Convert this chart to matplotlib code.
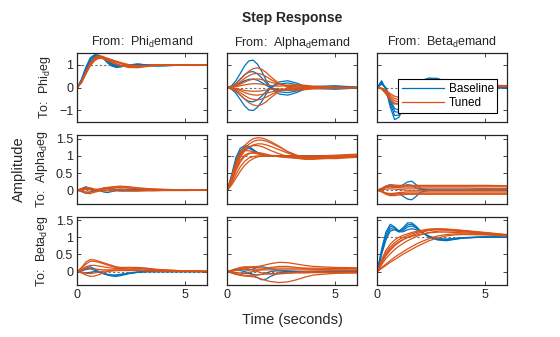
import matplotlib
matplotlib.use('Agg')
import matplotlib.pyplot as plt

plt.rcParams['font.family'] = ['Liberation Sans', 'DejaVu Sans']
plt.rcParams['mathtext.fontset'] = 'custom'
plt.rcParams['mathtext.rm'] = 'Liberation Sans'

# time samples (s)
T = [0, 0.2, 0.4, 0.6, 0.8, 1.0, 1.2, 1.4, 1.6, 1.8, 2.0, 2.4, 2.8, 3.2, 3.6, 4.0, 5.0, 6.0]

inputs = ['Phi', 'Alpha', 'Beta']
outputs = ['Phi', 'Alpha', 'Beta']

# Phi demand -> Phi
phi_phi_base = [
    [0, 0.35, 0.85, 1.25, 1.40, 1.40, 1.30, 1.12, 0.98, 0.92, 0.93, 1.00, 1.02, 0.98, 0.95, 0.96, 0.99, 1.00],
    [0, 0.32, 0.80, 1.20, 1.36, 1.38, 1.30, 1.15, 1.02, 0.95, 0.94, 0.98, 1.02, 1.00, 0.97, 0.97, 0.99, 1.00],
    [0, 0.38, 0.90, 1.30, 1.44, 1.42, 1.28, 1.08, 0.94, 0.88, 0.90, 0.99, 1.03, 0.99, 0.95, 0.95, 0.99, 1.00],
    [0, 0.30, 0.75, 1.12, 1.30, 1.34, 1.28, 1.16, 1.05, 0.98, 0.96, 0.98, 1.01, 1.00, 0.98, 0.98, 1.00, 1.00],
]
phi_phi_tuned = [
    [0, 0.25, 0.65, 1.00, 1.25, 1.35, 1.33, 1.27, 1.20, 1.12, 1.05, 0.93, 0.90, 0.93, 0.97, 0.99, 1.00, 1.00],
    [0, 0.28, 0.70, 1.08, 1.32, 1.40, 1.36, 1.26, 1.15, 1.05, 0.97, 0.88, 0.87, 0.92, 0.97, 0.99, 1.00, 1.00],
    [0, 0.22, 0.60, 0.95, 1.18, 1.28, 1.28, 1.24, 1.18, 1.12, 1.07, 0.98, 0.94, 0.95, 0.98, 0.99, 1.00, 1.00],
    [0, 0.26, 0.66, 1.02, 1.24, 1.30, 1.26, 1.18, 1.10, 1.03, 0.98, 0.93, 0.94, 0.97, 0.99, 1.00, 1.00, 1.00],
    [0, 0.24, 0.62, 0.98, 1.22, 1.32, 1.32, 1.28, 1.22, 1.16, 1.10, 1.00, 0.95, 0.95, 0.97, 0.99, 1.00, 1.00],
    [0, 0.27, 0.68, 1.04, 1.28, 1.36, 1.32, 1.22, 1.12, 1.02, 0.95, 0.90, 0.92, 0.96, 0.99, 1.00, 1.00, 1.00],
]

# Alpha demand -> Phi
alpha_phi_base = [
    [0, 0.08, 0.30, 0.62, 0.95, 1.17, 1.20, 1.02, 0.70, 0.32, 0.00, -0.28, -0.33, -0.22, -0.06, 0.05, 0.08, 0.02],
    [0, -0.07, -0.25, -0.52, -0.80, -0.98, -1.00, -0.86, -0.60, -0.28, 0.00, 0.25, 0.30, 0.20, 0.06, -0.04, -0.07, -0.02],
    [0, 0.05, 0.18, 0.38, 0.56, 0.68, 0.70, 0.60, 0.42, 0.20, 0.01, -0.18, -0.22, -0.15, -0.04, 0.03, 0.05, 0.01],
    [0, -0.05, -0.16, -0.33, -0.50, -0.60, -0.62, -0.53, -0.37, -0.17, 0.00, 0.16, 0.20, 0.13, 0.04, -0.03, -0.04, -0.01],
    [0, 0.03, 0.10, 0.20, 0.30, 0.36, 0.37, 0.32, 0.22, 0.10, 0.00, -0.10, -0.12, -0.08, -0.02, 0.02, 0.03, 0.00],
]
alpha_phi_tuned = [
    [0, 0.05, 0.17, 0.35, 0.55, 0.72, 0.83, 0.86, 0.80, 0.66, 0.48, 0.18, 0.02, -0.05, -0.06, -0.04, 0.00, 0.00],
    [0, -0.05, -0.15, -0.32, -0.50, -0.66, -0.76, -0.80, -0.74, -0.62, -0.45, -0.16, 0.00, 0.06, 0.07, 0.04, 0.00, 0.00],
    [0, 0.04, 0.12, 0.25, 0.40, 0.52, 0.60, 0.62, 0.58, 0.48, 0.36, 0.16, 0.06, 0.02, 0.00, 0.00, 0.00, 0.00],
    [0, -0.03, -0.10, -0.22, -0.35, -0.46, -0.52, -0.54, -0.50, -0.42, -0.32, -0.14, -0.05, -0.01, 0.00, 0.00, 0.00, 0.00],
    [0, 0.02, 0.07, 0.15, 0.24, 0.32, 0.37, 0.38, 0.35, 0.30, 0.24, 0.14, 0.10, 0.08, 0.06, 0.04, 0.01, 0.00],
    [0, -0.02, -0.06, -0.13, -0.21, -0.28, -0.32, -0.33, -0.30, -0.25, -0.20, -0.12, -0.09, -0.07, -0.05, -0.03, -0.01, 0.00],
    [0, 0.01, 0.04, 0.08, 0.12, 0.15, 0.17, 0.17, 0.15, 0.12, 0.09, 0.06, 0.10, 0.12, 0.10, 0.06, 0.02, 0.00],
    [0, -0.01, -0.04, -0.08, -0.12, -0.15, -0.16, -0.16, -0.14, -0.10, -0.07, -0.06, -0.10, -0.12, -0.09, -0.05, -0.02, 0.00],
]

# Beta demand -> Phi
beta_phi_base = [
    [0, 0.30, -0.10, -0.85, -1.40, -1.30, -0.90, -0.45, -0.10, 0.15, 0.30, 0.42, 0.40, 0.25, 0.08, -0.02, -0.02, 0.00],
    [0, 0.25, -0.05, -0.70, -1.22, -1.20, -0.88, -0.48, -0.14, 0.10, 0.25, 0.38, 0.37, 0.24, 0.08, -0.01, -0.02, 0.00],
    [0, 0.20, -0.05, -0.60, -1.05, -1.08, -0.82, -0.48, -0.18, 0.06, 0.22, 0.35, 0.35, 0.23, 0.08, 0.00, -0.01, 0.00],
    [0, 0.15, 0.00, -0.50, -0.92, -0.98, -0.78, -0.48, -0.20, 0.03, 0.18, 0.32, 0.33, 0.22, 0.08, 0.00, -0.01, 0.00],
]
beta_phi_tuned = [
    [0, -0.05, -0.25, -0.50, -0.68, -0.70, -0.62, -0.48, -0.34, -0.22, -0.12, 0.00, 0.05, 0.07, 0.08, 0.08, 0.07, 0.06],
    [0, -0.04, -0.20, -0.42, -0.58, -0.62, -0.56, -0.44, -0.32, -0.20, -0.10, 0.01, 0.06, 0.08, 0.09, 0.09, 0.08, 0.07],
    [0, -0.03, -0.16, -0.34, -0.48, -0.52, -0.48, -0.38, -0.28, -0.18, -0.09, 0.02, 0.06, 0.08, 0.09, 0.10, 0.09, 0.08],
    [0, -0.02, -0.12, -0.26, -0.38, -0.42, -0.39, -0.32, -0.24, -0.15, -0.07, 0.03, 0.07, 0.09, 0.10, 0.10, 0.10, 0.09],
    [0, -0.06, -0.28, -0.55, -0.72, -0.72, -0.62, -0.46, -0.30, -0.17, -0.06, 0.05, 0.08, 0.08, 0.07, 0.06, 0.05, 0.04],
]

# Phi demand -> Alpha
phi_alpha_base = [
    [0, 0.05, 0.10, 0.04, -0.02, 0.00, 0.06, 0.08, 0.04, 0.02, 0.03, 0.02, 0.01, 0.00, 0.00, 0.00, 0.00, 0.00],
    [0, -0.04, -0.09, -0.05, 0.00, 0.00, -0.05, -0.07, -0.04, -0.01, 0.00, 0.00, 0.00, 0.00, 0.00, 0.00, 0.00, 0.00],
    [0, 0.03, 0.07, 0.03, 0.00, 0.01, 0.04, 0.05, 0.03, 0.02, 0.02, 0.01, 0.01, 0.00, 0.00, 0.00, 0.00, 0.00],
]
phi_alpha_tuned = [
    [0, 0.04, 0.08, 0.07, 0.03, 0.02, 0.04, 0.07, 0.09, 0.11, 0.12, 0.10, 0.07, 0.05, 0.03, 0.02, 0.01, 0.01],
    [0, -0.04, -0.09, -0.10, -0.06, -0.03, -0.02, -0.02, -0.02, -0.02, -0.03, -0.03, -0.03, -0.02, -0.02, -0.01, -0.01, 0.00],
    [0, 0.02, 0.05, 0.04, 0.02, 0.02, 0.03, 0.05, 0.06, 0.07, 0.08, 0.07, 0.05, 0.04, 0.03, 0.02, 0.01, 0.01],
    [0, -0.02, -0.05, -0.06, -0.03, -0.01, 0.00, 0.01, 0.02, 0.02, 0.02, 0.01, 0.00, 0.00, 0.00, 0.00, 0.00, 0.00],
    [0, 0.01, 0.02, 0.01, 0.01, 0.03, 0.06, 0.08, 0.09, 0.10, 0.09, 0.06, 0.04, 0.03, 0.02, 0.02, 0.01, 0.01],
]

# Alpha demand -> Alpha
alpha_alpha_base = [
    [0, 0.45, 0.95, 1.22, 1.30, 1.28, 1.18, 1.08, 1.02, 1.00, 1.00, 1.00, 1.00, 1.00, 1.00, 1.00, 1.00, 1.00],
    [0, 0.40, 0.88, 1.15, 1.26, 1.26, 1.18, 1.10, 1.04, 1.01, 1.00, 1.00, 1.00, 1.00, 1.00, 1.00, 1.00, 1.00],
    [0, 0.35, 0.80, 1.08, 1.20, 1.22, 1.16, 1.08, 1.03, 1.01, 1.00, 1.00, 1.00, 1.00, 1.00, 1.00, 1.00, 1.00],
]
alpha_alpha_tuned = [
    [0, 0.38, 0.82, 1.12, 1.30, 1.42, 1.50, 1.53, 1.52, 1.48, 1.42, 1.28, 1.12, 1.02, 0.96, 0.94, 0.98, 1.02],
    [0, 0.34, 0.75, 1.04, 1.22, 1.34, 1.42, 1.46, 1.46, 1.43, 1.38, 1.26, 1.12, 1.02, 0.96, 0.94, 0.97, 1.00],
    [0, 0.30, 0.68, 0.96, 1.14, 1.25, 1.32, 1.35, 1.35, 1.32, 1.28, 1.18, 1.08, 1.00, 0.96, 0.95, 0.98, 1.00],
    [0, 0.36, 0.78, 1.05, 1.15, 1.15, 1.12, 1.08, 1.04, 1.02, 1.00, 0.98, 0.97, 0.97, 0.98, 0.99, 1.02, 1.05],
    [0, 0.28, 0.62, 0.88, 1.02, 1.08, 1.08, 1.06, 1.03, 1.01, 1.00, 0.98, 0.96, 0.95, 0.94, 0.93, 0.92, 0.96],
    [0, 0.20, 0.45, 0.68, 0.84, 0.94, 0.98, 1.00, 1.00, 1.00, 1.00, 0.99, 0.98, 0.98, 0.97, 0.96, 0.95, 0.97],
    [0, 0.15, 0.35, 0.55, 0.72, 0.84, 0.92, 0.97, 0.99, 1.00, 1.00, 1.00, 1.00, 1.00, 1.00, 1.00, 1.00, 1.00],
    [0, 0.32, 0.70, 0.98, 1.16, 1.26, 1.30, 1.30, 1.27, 1.22, 1.16, 1.06, 0.98, 0.93, 0.90, 0.90, 0.94, 0.99],
    [0, 0.25, 0.56, 0.82, 0.98, 1.06, 1.10, 1.10, 1.08, 1.05, 1.02, 0.98, 0.95, 0.93, 0.92, 0.92, 0.96, 1.02],
]

# Beta demand -> Alpha
beta_alpha_base = [
    [0, 0.05, 0.12, 0.16, 0.12, 0.10, 0.16, 0.24, 0.26, 0.16, 0.05, 0.00, 0.00, 0.00, 0.00, 0.00, 0.00, 0.00],
    [0, -0.04, -0.10, -0.14, -0.10, -0.10, -0.18, -0.26, -0.28, -0.18, -0.06, 0.00, 0.00, 0.00, 0.00, 0.00, 0.00, 0.00],
    [0, 0.03, 0.08, 0.10, 0.08, 0.08, 0.12, 0.16, 0.14, 0.06, 0.02, 0.00, 0.00, 0.00, 0.00, 0.00, 0.00, 0.00],
]
beta_alpha_tuned = [
    [0, 0.05, 0.12, 0.16, 0.15, 0.14, 0.14, 0.14, 0.14, 0.14, 0.14, 0.14, 0.14, 0.14, 0.14, 0.14, 0.14, 0.13],
    [0, -0.05, -0.12, -0.16, -0.16, -0.14, -0.13, -0.12, -0.12, -0.12, -0.12, -0.12, -0.12, -0.12, -0.12, -0.12, -0.12, -0.12],
    [0, 0.03, 0.08, 0.10, 0.09, 0.07, 0.06, 0.06, 0.06, 0.06, 0.06, 0.06, 0.06, 0.06, 0.06, 0.06, 0.05, 0.05],
    [0, -0.03, -0.08, -0.10, -0.09, -0.07, -0.06, -0.05, -0.05, -0.05, -0.05, -0.05, -0.05, -0.05, -0.05, -0.05, -0.05, -0.05],
    [0, 0.01, 0.03, 0.04, 0.03, 0.02, 0.01, 0.00, 0.00, 0.00, 0.00, 0.00, 0.00, 0.00, 0.00, 0.00, 0.00, 0.00],
    [0, 0.04, 0.10, 0.13, 0.12, 0.11, 0.10, 0.10, 0.10, 0.10, 0.10, 0.10, 0.10, 0.10, 0.10, 0.10, 0.10, 0.10],
    [0, -0.04, -0.10, -0.13, -0.12, -0.10, -0.09, -0.09, -0.09, -0.09, -0.09, -0.09, -0.09, -0.09, -0.09, -0.09, -0.09, -0.09],
]

# Phi demand -> Beta
phi_beta_base = [
    [0, 0.03, 0.10, 0.14, 0.08, 0.00, -0.06, -0.10, -0.13, -0.14, -0.12, -0.06, -0.02, 0.00, 0.00, 0.00, 0.00, 0.00],
    [0, 0.02, 0.06, 0.08, 0.04, -0.02, -0.06, -0.09, -0.11, -0.11, -0.09, -0.05, -0.02, 0.00, 0.00, 0.00, 0.00, 0.00],
    [0, -0.02, -0.04, -0.02, 0.00, -0.02, -0.05, -0.08, -0.10, -0.10, -0.08, -0.04, -0.01, 0.00, 0.00, 0.00, 0.00, 0.00],
]
phi_beta_tuned = [
    [0, 0.12, 0.28, 0.35, 0.34, 0.30, 0.26, 0.22, 0.18, 0.14, 0.12, 0.12, 0.12, 0.10, 0.07, 0.05, 0.02, 0.01],
    [0, 0.10, 0.22, 0.30, 0.30, 0.27, 0.23, 0.19, 0.15, 0.12, 0.11, 0.12, 0.11, 0.09, 0.06, 0.04, 0.02, 0.01],
    [0, 0.06, 0.14, 0.18, 0.18, 0.16, 0.14, 0.12, 0.10, 0.09, 0.09, 0.10, 0.09, 0.07, 0.05, 0.04, 0.02, 0.01],
    [0, -0.04, -0.10, -0.14, -0.13, -0.09, -0.04, 0.00, 0.02, 0.03, 0.04, 0.05, 0.05, 0.04, 0.03, 0.02, 0.01, 0.00],
    [0, 0.04, 0.08, 0.10, 0.08, 0.06, 0.05, 0.05, 0.05, 0.05, 0.05, 0.05, 0.04, 0.03, 0.02, 0.02, 0.01, 0.00],
    [0, -0.02, -0.05, -0.06, -0.04, -0.01, 0.01, 0.02, 0.03, 0.03, 0.03, 0.03, 0.03, 0.02, 0.02, 0.01, 0.01, 0.00],
]

# Alpha demand -> Beta
alpha_beta_base = [
    [0, 0.04, 0.08, 0.08, 0.05, 0.04, 0.08, 0.12, 0.14, 0.12, 0.08, 0.02, 0.00, 0.00, 0.00, 0.00, 0.00, 0.00],
    [0, -0.04, -0.08, -0.08, -0.05, -0.05, -0.10, -0.18, -0.24, -0.22, -0.14, -0.04, 0.00, 0.00, 0.00, 0.00, 0.00, 0.00],
    [0, 0.02, 0.04, 0.03, 0.00, -0.04, -0.08, -0.10, -0.08, -0.04, 0.00, 0.03, 0.02, 0.00, 0.00, 0.00, 0.00, 0.00],
]
alpha_beta_tuned = [
    [0, 0.03, 0.08, 0.12, 0.14, 0.14, 0.14, 0.15, 0.17, 0.20, 0.23, 0.27, 0.26, 0.22, 0.18, 0.15, 0.12, 0.11],
    [0, -0.03, -0.08, -0.11, -0.13, -0.14, -0.15, -0.18, -0.22, -0.26, -0.29, -0.32, -0.30, -0.24, -0.16, -0.10, -0.05, -0.04],
    [0, 0.02, 0.06, 0.09, 0.11, 0.12, 0.12, 0.11, 0.10, 0.10, 0.10, 0.10, 0.10, 0.10, 0.10, 0.10, 0.09, 0.09],
    [0, -0.02, -0.06, -0.09, -0.11, -0.11, -0.10, -0.09, -0.08, -0.07, -0.06, -0.05, -0.04, -0.04, -0.04, -0.03, -0.03, -0.03],
    [0, 0.01, 0.03, 0.05, 0.06, 0.06, 0.05, 0.05, 0.05, 0.05, 0.05, 0.05, 0.05, 0.05, 0.05, 0.05, 0.05, 0.05],
    [0, 0.03, 0.07, 0.10, 0.10, 0.08, 0.04, 0.00, -0.04, -0.06, -0.07, -0.07, -0.05, -0.02, 0.00, 0.01, 0.02, 0.02],
    [0, -0.01, -0.03, -0.04, -0.04, -0.02, 0.00, 0.03, 0.06, 0.09, 0.12, 0.15, 0.15, 0.12, 0.09, 0.07, 0.04, 0.03],
]

# Beta demand -> Beta
beta_beta_base = [
    [0, 0.65, 1.15, 1.38, 1.30, 1.18, 1.28, 1.42, 1.42, 1.32, 1.18, 1.00, 0.92, 0.90, 0.94, 0.98, 1.01, 1.00],
    [0, 0.60, 1.08, 1.32, 1.28, 1.18, 1.24, 1.36, 1.38, 1.30, 1.18, 1.02, 0.94, 0.92, 0.95, 0.98, 1.01, 1.00],
    [0, 0.55, 1.00, 1.25, 1.24, 1.16, 1.20, 1.30, 1.33, 1.27, 1.17, 1.02, 0.95, 0.93, 0.96, 0.99, 1.01, 1.00],
    [0, 0.50, 0.92, 1.18, 1.22, 1.16, 1.16, 1.22, 1.25, 1.22, 1.15, 1.03, 0.96, 0.95, 0.97, 0.99, 1.00, 1.00],
]
beta_beta_tuned = [
    [0, 0.35, 0.62, 0.80, 0.92, 1.00, 1.06, 1.10, 1.14, 1.17, 1.20, 1.24, 1.25, 1.24, 1.22, 1.20, 1.14, 1.08],
    [0, 0.30, 0.55, 0.72, 0.84, 0.93, 1.00, 1.05, 1.10, 1.14, 1.17, 1.22, 1.24, 1.23, 1.21, 1.19, 1.13, 1.07],
    [0, 0.25, 0.46, 0.62, 0.75, 0.85, 0.93, 1.00, 1.05, 1.10, 1.14, 1.20, 1.22, 1.22, 1.20, 1.18, 1.12, 1.06],
    [0, 0.20, 0.38, 0.52, 0.64, 0.74, 0.82, 0.90, 0.96, 1.02, 1.07, 1.14, 1.18, 1.19, 1.18, 1.16, 1.11, 1.06],
    [0, 0.12, 0.22, 0.32, 0.42, 0.50, 0.58, 0.66, 0.73, 0.80, 0.86, 0.96, 1.04, 1.08, 1.10, 1.10, 1.08, 1.05],
    [0, 0.09, 0.18, 0.27, 0.35, 0.43, 0.51, 0.58, 0.65, 0.72, 0.78, 0.90, 0.98, 1.04, 1.07, 1.08, 1.07, 1.04],
    [0, 0.28, 0.50, 0.66, 0.78, 0.87, 0.94, 0.99, 1.03, 1.06, 1.09, 1.13, 1.15, 1.15, 1.14, 1.13, 1.10, 1.06],
]

# [output row][input column]
base = [[phi_phi_base, alpha_phi_base, beta_phi_base],
        [phi_alpha_base, alpha_alpha_base, beta_alpha_base],
        [phi_beta_base, alpha_beta_base, beta_beta_base]]
tuned = [[phi_phi_tuned, alpha_phi_tuned, beta_phi_tuned],
         [phi_alpha_tuned, alpha_alpha_tuned, beta_alpha_tuned],
         [phi_beta_tuned, alpha_beta_tuned, beta_beta_tuned]]

blue = '#0072BD'
orange = '#D95319'
txt = '#262626'

W, H = 560.0, 337.0
col_x = [77.3, 227.3, 377.3]
row_y = [53.3, 135.3, 216.7]
aw, ah = 129.6, 68.6

fig = plt.figure(figsize=(5.6, 3.37), dpi=100)

for i in range(3):
    for j in range(3):
        ax = fig.add_axes([col_x[j] / W, 1 - (row_y[i] + ah) / H, aw / W, ah / H])
        # steady state line
        ax.axhline(1 if i == j else 0, color='#6e6e6e', lw=0.8, ls=(0, (2, 2)), zorder=1)
        for y in base[i][j]:
            ax.plot(T, y, color=blue, lw=0.9)
        for y in tuned[i][j]:
            ax.plot(T, y, color=orange, lw=0.9)
        ax.set_xlim(0, 6)
        if i == 0:
            ax.set_ylim(-1.5, 1.5)
            ax.set_yticks([-1, 0, 1])
        else:
            ax.set_ylim(-0.4, 1.6)
            ax.set_yticks([0, 0.5, 1, 1.5])
            ax.set_yticklabels(['0', '0.5', '1', '1.5'])
        ax.set_xticks([0, 5])
        ax.tick_params(direction='in', top=True, right=True, length=3, width=0.6,
                       labelsize=9, colors=txt, pad=3)
        ax.tick_params(labelcolor=txt)
        for s in ax.spines.values():
            s.set_color(txt)
            s.set_linewidth(0.9)
        if i < 2:
            ax.tick_params(labelbottom=False)
        if j > 0:
            ax.tick_params(labelleft=False)
        if i == 0:
            ax.set_title('From:  ' + inputs[j] + r'$_\mathrm{d}$emand', fontsize=9, color=txt, pad=5)
        if j == 0:
            ax.set_ylabel('To:  ' + outputs[i] + r'$_\mathrm{d}$eg', fontsize=9, color=txt, labelpad=4)
        if i == 0 and j == 2:
            leg = ax.legend(ax.lines[1:2] + ax.lines[-1:], ['Baseline', 'Tuned'],
                            loc='upper left', bbox_to_anchor=(0.16, 0.62), fontsize=8.5,
                            frameon=True, fancybox=False, framealpha=1, edgecolor='black',
                            handlelength=3.6, borderpad=0.3, labelspacing=0.2,
                            handletextpad=0.4, borderaxespad=0)
            leg.get_frame().set_linewidth(0.8)

fig.text(292.5 / W, 1 - 18 / H, 'Step Response', ha='center', va='center',
         fontsize=10, fontweight='bold', color=txt)
fig.text(19 / W, 1 - 169 / H, 'Amplitude', rotation=90, ha='center', va='center',
         fontsize=10.5, color=txt)
fig.text(292 / W, 1 - 320 / H, 'Time (seconds)', ha='center', va='center',
         fontsize=10.5, color=txt)

fig.savefig('out.png', dpi=100)
